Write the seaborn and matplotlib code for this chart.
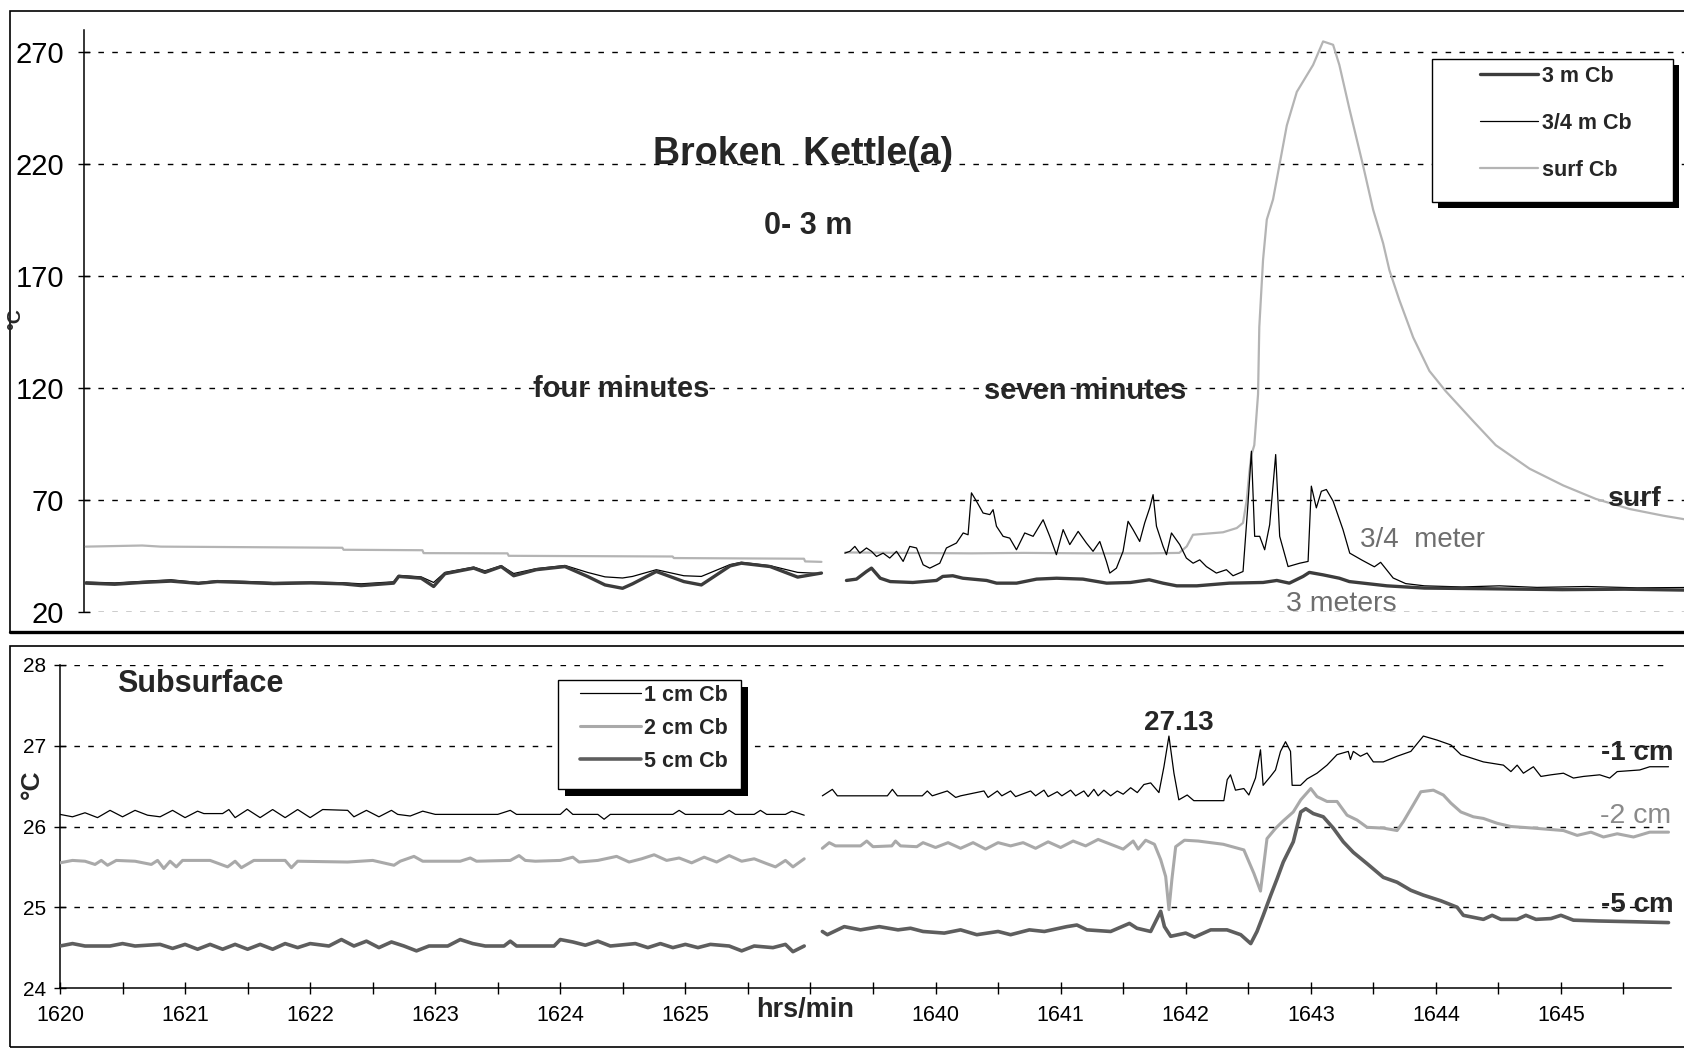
import pandas as pd
import matplotlib
matplotlib.use("Agg")
import matplotlib.pyplot as plt
from matplotlib.lines import Line2D
from matplotlib.patches import Rectangle
import seaborn as sns

# x = position on the category axis in minutes (0 -> 1620, 7 -> 1640), y = deg C

# --- upper panel, 0-3 m ---
m3_a = [(0.0, 32.7), (0.23, 32.2), (0.45, 33.0), (0.68, 33.6), (0.9, 32.6), (1.05, 33.4),
        (1.27, 33.0), (1.5, 32.5), (1.8, 32.8), (2.05, 32.4), (2.2, 31.6), (2.46, 32.7),
        (2.5, 35.7), (2.68, 34.9), (2.78, 31.2), (2.87, 36.9), (3.1, 39.4), (3.19, 37.5),
        (3.32, 40.1), (3.42, 36.0), (3.6, 38.7), (3.83, 40.1), (4.01, 35.7), (4.15, 31.9),
        (4.29, 30.4), (4.37, 32.4), (4.56, 37.9), (4.78, 33.4), (4.92, 31.9), (5.15, 40.4),
        (5.24, 41.6), (5.47, 40.1), (5.69, 35.4), (5.88, 37.2)]
m3_b = [(6.08, 33.9), (6.16, 34.5), (6.24, 37.9), (6.28, 39.4), (6.35, 34.9), (6.43, 33.4),
        (6.61, 33.0), (6.8, 33.9), (6.85, 35.7), (6.93, 36.0), (7.01, 34.9), (7.2, 33.9),
        (7.28, 32.7), (7.44, 32.7), (7.6, 34.5), (7.76, 34.9), (7.97, 34.5), (8.16, 32.7),
        (8.35, 33.0), (8.5, 34.2), (8.61, 32.7), (8.72, 31.5), (8.88, 31.5), (9.14, 32.7),
        (9.41, 33.0), (9.52, 33.9), (9.62, 32.7), (9.73, 35.7), (9.78, 37.5), (9.89, 36.4),
        (10.02, 34.9), (10.1, 33.4), (10.4, 31.5), (10.7, 30.5), (11.2, 30.2), (11.8, 29.8),
        (12.3, 30.0), (12.9, 29.5)]

m34_a = [(0.0, 33.2), (0.23, 32.8), (0.45, 33.5), (0.68, 34.2), (0.9, 33.0), (1.05, 33.8),
         (1.27, 33.5), (1.5, 33.0), (1.8, 33.2), (2.05, 32.9), (2.2, 32.4), (2.46, 33.3),
         (2.5, 36.2), (2.68, 35.5), (2.78, 33.0), (2.87, 37.5), (3.1, 39.9), (3.19, 38.2),
         (3.32, 40.5), (3.42, 37.0), (3.6, 39.2), (3.83, 40.6), (4.01, 37.5), (4.15, 35.5),
         (4.29, 35.0), (4.37, 35.7), (4.56, 38.7), (4.78, 36.0), (4.92, 35.7), (5.15, 41.0),
         (5.24, 42.0), (5.47, 40.5), (5.69, 37.5), (5.88, 37.0)]
m34_b = [(6.067, 46.1), (6.107, 46.9), (6.147, 49.1), (6.187, 46.1), (6.24, 48.4), (6.28, 46.9),
         (6.32, 44.6), (6.373, 46.1), (6.426, 43.9), (6.48, 46.9), (6.533, 42.4), (6.586, 49.1),
         (6.64, 48.4), (6.693, 40.9), (6.746, 39.4), (6.826, 41.6), (6.879, 48.4), (6.959, 50.6),
         (7.013, 55.1), (7.052, 54.3), (7.079, 73.0), (7.119, 69.3), (7.172, 64.0), (7.226, 63.3),
         (7.252, 65.5), (7.279, 58.1), (7.332, 53.6), (7.385, 52.8), (7.439, 47.6), (7.505, 55.1),
         (7.572, 53.6), (7.652, 61.0), (7.705, 53.6), (7.758, 45.4), (7.812, 56.6), (7.865, 49.9),
         (7.932, 55.8), (7.998, 50.6), (8.051, 46.9), (8.105, 51.3), (8.158, 42.4), (8.185, 37.2),
         (8.238, 39.4), (8.291, 46.9), (8.331, 60.3), (8.371, 56.6), (8.424, 51.3), (8.464, 59.6),
         (8.504, 66.3), (8.531, 72.2), (8.558, 58.1), (8.611, 49.1), (8.638, 45.4), (8.678, 55.1),
         (8.744, 49.9), (8.797, 43.9), (8.851, 41.6), (8.904, 43.1), (8.957, 40.1), (9.037, 37.2),
         (9.117, 38.7), (9.17, 36.0), (9.25, 37.9), (9.29, 68.5), (9.317, 91.6), (9.343, 53.6),
         (9.383, 53.6), (9.423, 47.6), (9.463, 58.8), (9.511, 90.1), (9.543, 53.6), (9.61, 40.1),
         (9.703, 41.6), (9.77, 42.4), (9.796, 76.0), (9.836, 66.3), (9.876, 73.7), (9.916, 74.5),
         (9.97, 69.3), (10.049, 56.6), (10.103, 46.1), (10.2, 43.0), (10.3, 40.0), (10.35, 42.0),
         (10.45, 35.0), (10.55, 32.5), (10.7, 31.5), (11.0, 31.0), (11.3, 31.5), (11.6, 30.8),
         (12.0, 31.2), (12.4, 30.6), (12.9, 30.8)]

surf_a = [(0.0, 49.0), (0.45, 49.5), (0.6, 49.0), (2.05, 48.5), (2.06, 47.6), (2.69, 47.4),
          (2.7, 46.1), (3.37, 46.0), (3.38, 44.9), (4.69, 44.6), (4.7, 43.9), (5.74, 43.6),
          (5.75, 42.4), (5.88, 42.2)]
surf_b = [(6.07, 46.4), (6.5, 46.2), (7.08, 46.0), (7.5, 46.2), (8.0, 46.0), (8.5, 46.0),
          (8.74, 46.2), (8.8, 49.1), (8.85, 54.3), (8.96, 54.8), (9.09, 55.4), (9.2, 57.3),
          (9.25, 59.6), (9.28, 70.0), (9.3, 82.0), (9.317, 90.0), (9.34, 94.3), (9.37, 117),
          (9.38, 147), (9.41, 177), (9.44, 195), (9.49, 204), (9.54, 219), (9.6, 237),
          (9.68, 252), (9.81, 264), (9.89, 274.5), (9.97, 273), (10.02, 264), (10.1, 244.5),
          (10.21, 219), (10.29, 199.4), (10.37, 184.4), (10.42, 172.4), (10.5, 159),
          (10.61, 142.4), (10.74, 127.4), (10.87, 118.4), (11.09, 105), (11.27, 94.3),
          (11.54, 83.8), (11.81, 76.3), (12.07, 70.3), (12.34, 65.8), (12.61, 62.8),
          (12.77, 61.3), (12.9, 60.0)]

# --- lower panel, subsurface ---
cm1_a = [(0.0, 26.15), (0.1, 26.12), (0.2, 26.17), (0.3, 26.11), (0.4, 26.2), (0.5, 26.12),
         (0.6, 26.2), (0.7, 26.14), (0.8, 26.12), (0.9, 26.2), (1.0, 26.11), (1.1, 26.19),
         (1.15, 26.16), (1.3, 26.16), (1.35, 26.21), (1.4, 26.11), (1.5, 26.21), (1.6, 26.11),
         (1.7, 26.21), (1.8, 26.11), (1.9, 26.21), (2.0, 26.11), (2.1, 26.21), (2.3, 26.2),
         (2.35, 26.12), (2.45, 26.2), (2.55, 26.12), (2.65, 26.2), (2.7, 26.15), (2.8, 26.13),
         (2.9, 26.19), (3.0, 26.15), (3.5, 26.15), (3.6, 26.2), (3.65, 26.15), (4.0, 26.15),
         (4.05, 26.22), (4.1, 26.15), (4.3, 26.15), (4.35, 26.09), (4.4, 26.15), (4.9, 26.15),
         (4.95, 26.2), (5.0, 26.15), (5.3, 26.15), (5.35, 26.2), (5.4, 26.15), (5.55, 26.15),
         (5.6, 26.2), (5.65, 26.15), (5.8, 26.15), (5.85, 26.19), (5.95, 26.14)]
cm1_b = [(6.095, 26.38), (6.175, 26.46), (6.215, 26.38), (6.615, 26.38), (6.655, 26.46),
         (6.695, 26.38), (6.894, 26.38), (6.934, 26.44), (6.974, 26.38), (7.094, 26.44),
         (7.161, 26.36), (7.201, 26.38), (7.387, 26.44), (7.42, 26.36), (7.494, 26.44),
         (7.53, 26.38), (7.6, 26.44), (7.64, 26.37), (7.76, 26.44), (7.8, 26.38), (7.867, 26.45),
         (7.9, 26.37), (7.973, 26.43), (8.01, 26.38), (8.08, 26.45), (8.12, 26.38), (8.186, 26.44),
         (8.22, 26.37), (8.266, 26.46), (8.3, 26.38), (8.346, 26.45), (8.4, 26.38), (8.453, 26.44),
         (8.5, 26.4), (8.56, 26.48), (8.613, 26.42), (8.666, 26.52), (8.72, 26.54), (8.786, 26.42),
         (8.826, 26.74), (8.866, 27.12), (8.906, 26.66), (8.945, 26.33), (9.012, 26.39),
         (9.065, 26.32), (9.305, 26.32), (9.332, 26.58), (9.358, 26.64), (9.398, 26.45),
         (9.465, 26.47), (9.505, 26.39), (9.558, 26.6), (9.598, 26.95), (9.619, 26.51),
         (9.678, 26.62), (9.718, 26.7), (9.758, 26.93), (9.798, 27.05), (9.838, 26.93),
         (9.851, 26.51), (9.918, 26.51), (9.971, 26.59), (10.05, 26.66), (10.13, 26.76),
         (10.21, 26.89), (10.3, 26.93), (10.317, 26.83), (10.34, 26.93), (10.397, 26.87),
         (10.45, 26.91), (10.5, 26.8), (10.58, 26.8), (10.69, 26.87), (10.8, 26.93),
         (10.9, 27.12), (11.01, 27.07), (11.12, 27.01), (11.2, 26.89), (11.28, 26.85),
         (11.38, 26.8), (11.54, 26.76), (11.6, 26.68), (11.65, 26.76), (11.7, 26.66),
         (11.78, 26.74), (11.84, 26.62), (11.92, 26.64), (12.02, 26.66), (12.1, 26.6),
         (12.18, 26.62), (12.31, 26.64), (12.39, 26.6), (12.45, 26.68), (12.63, 26.7),
         (12.71, 26.74), (12.86, 26.74)]

cm2_a = [(0.0, 25.55), (0.1, 25.58), (0.2, 25.57), (0.28, 25.53), (0.33, 25.58), (0.38, 25.52),
         (0.45, 25.58), (0.6, 25.57), (0.73, 25.53), (0.78, 25.58), (0.83, 25.48), (0.88, 25.57),
         (0.93, 25.5), (0.98, 25.58), (1.2, 25.58), (1.34, 25.5), (1.4, 25.57), (1.45, 25.49),
         (1.55, 25.58), (1.8, 25.58), (1.85, 25.49), (1.9, 25.57), (2.3, 25.56), (2.5, 25.58),
         (2.67, 25.52), (2.72, 25.57), (2.83, 25.63), (2.9, 25.57), (3.2, 25.57), (3.28, 25.61),
         (3.33, 25.57), (3.6, 25.58), (3.67, 25.64), (3.72, 25.58), (3.8, 25.57), (4.0, 25.58),
         (4.1, 25.62), (4.15, 25.56), (4.3, 25.58), (4.45, 25.63), (4.55, 25.56), (4.65, 25.6),
         (4.75, 25.65), (4.85, 25.58), (4.95, 25.61), (5.05, 25.55), (5.15, 25.62), (5.25, 25.56),
         (5.35, 25.64), (5.45, 25.57), (5.55, 25.6), (5.65, 25.54), (5.72, 25.5), (5.8, 25.58),
         (5.86, 25.5), (5.95, 25.6)]
cm2_b = [(6.095, 25.73), (6.15, 25.8), (6.2, 25.76), (6.4, 25.76), (6.45, 25.82), (6.5, 25.75),
         (6.65, 25.76), (6.68, 25.82), (6.72, 25.76), (6.85, 25.75), (6.9, 25.8), (7.0, 25.74),
         (7.1, 25.8), (7.2, 25.73), (7.3, 25.8), (7.4, 25.72), (7.5, 25.8), (7.6, 25.76),
         (7.7, 25.8), (7.8, 25.73), (7.9, 25.81), (8.0, 25.74), (8.1, 25.82), (8.2, 25.76),
         (8.3, 25.84), (8.4, 25.78), (8.5, 25.72), (8.58, 25.82), (8.62, 25.72), (8.68, 25.83),
         (8.75, 25.78), (8.8, 25.59), (8.84, 25.38), (8.866, 24.97), (8.89, 25.35), (8.92, 25.75),
         (8.99, 25.83), (9.1, 25.82), (9.2, 25.8), (9.3, 25.78), (9.465, 25.71), (9.545, 25.42),
         (9.598, 25.2), (9.65, 25.85), (9.72, 25.98), (9.78, 26.07), (9.86, 26.18), (9.92, 26.33),
         (10.0, 26.47), (10.05, 26.37), (10.13, 26.31), (10.21, 26.31), (10.29, 26.14),
         (10.37, 26.08), (10.45, 25.99), (10.58, 25.98), (10.69, 25.95), (10.74, 26.06),
         (10.82, 26.27), (10.88, 26.43), (10.98, 26.45), (11.06, 26.39), (11.12, 26.29),
         (11.2, 26.18), (11.3, 26.12), (11.38, 26.1), (11.49, 26.04), (11.6, 26.0), (11.78, 25.98),
         (12.02, 25.95), (12.13, 25.89), (12.24, 25.93), (12.34, 25.87), (12.45, 25.91),
         (12.58, 25.87), (12.71, 25.93), (12.86, 25.93)]

cm5_a = [(0.0, 24.52), (0.1, 24.55), (0.2, 24.52), (0.4, 24.52), (0.5, 24.55), (0.6, 24.52),
         (0.8, 24.54), (0.9, 24.49), (1.0, 24.54), (1.1, 24.48), (1.2, 24.54), (1.3, 24.48),
         (1.4, 24.54), (1.5, 24.48), (1.6, 24.54), (1.7, 24.48), (1.8, 24.55), (1.9, 24.5),
         (2.0, 24.55), (2.15, 24.52), (2.25, 24.6), (2.35, 24.52), (2.45, 24.58), (2.55, 24.5),
         (2.65, 24.57), (2.75, 24.52), (2.85, 24.46), (2.95, 24.52), (3.1, 24.52), (3.2, 24.6),
         (3.3, 24.55), (3.4, 24.52), (3.55, 24.52), (3.6, 24.58), (3.65, 24.52), (3.95, 24.52),
         (4.0, 24.6), (4.1, 24.57), (4.2, 24.53), (4.3, 24.58), (4.4, 24.52), (4.6, 24.55),
         (4.7, 24.5), (4.8, 24.55), (4.9, 24.5), (5.0, 24.54), (5.1, 24.5), (5.2, 24.54),
         (5.35, 24.52), (5.45, 24.46), (5.55, 24.52), (5.7, 24.5), (5.8, 24.54), (5.86, 24.45),
         (5.95, 24.52)]
cm5_b = [(6.095, 24.7), (6.135, 24.66), (6.27, 24.76), (6.4, 24.72), (6.55, 24.76), (6.7, 24.72),
         (6.8, 24.74), (6.9, 24.7), (7.07, 24.68), (7.2, 24.72), (7.33, 24.66), (7.5, 24.7),
         (7.6, 24.66), (7.75, 24.72), (7.87, 24.7), (8.05, 24.76), (8.13, 24.78), (8.21, 24.72),
         (8.4, 24.7), (8.55, 24.8), (8.61, 24.74), (8.72, 24.7), (8.8, 24.95), (8.83, 24.76),
         (8.88, 24.64), (9.0, 24.68), (9.07, 24.63), (9.2, 24.72), (9.33, 24.72), (9.44, 24.66),
         (9.52, 24.55), (9.57, 24.7), (9.62, 24.9), (9.68, 25.15), (9.73, 25.35), (9.78, 25.56),
         (9.86, 25.81), (9.92, 26.18), (9.96, 26.22), (10.02, 26.16), (10.1, 26.12), (10.18, 25.98),
         (10.26, 25.81), (10.34, 25.68), (10.45, 25.54), (10.58, 25.37), (10.69, 25.31),
         (10.8, 25.21), (10.9, 25.15), (11.04, 25.08), (11.17, 25.0), (11.22, 24.9), (11.38, 24.85),
         (11.45, 24.9), (11.52, 24.85), (11.65, 24.85), (11.72, 24.9), (11.8, 24.85), (11.92, 24.86),
         (12.0, 24.9), (12.1, 24.84), (12.3, 24.83), (12.6, 24.82), (12.86, 24.81)]

tick_pos = [0, 1, 2, 3, 4, 5, 7, 8, 9, 10, 11, 12]
tick_labels = ['1620', '1621', '1622', '1623', '1624', '1625',
               '1640', '1641', '1642', '1643', '1644', '1645']
top_yticks = [20, 70, 120, 170, 220, 270]
bot_yticks = [24, 25, 26, 27, 28]

# styles
C_3M, LW_3M = '#3c3c3c', 2.4
C_34M, LW_34M = 'black', 0.9
C_SURF, LW_SURF = '#b4b4b4', 1.6
C_1CM, LW_1CM = 'black', 0.9
C_2CM, LW_2CM = '#a9a9a9', 2.2
C_5CM, LW_5CM = '#5e5e5e', 2.6
GRID = dict(color='black', lw=1.0, linestyle=(0, (4, 6)))

sns.set_style("white")
plt.rcParams['font.family'] = ['Liberation Sans', 'DejaVu Sans']

W, H = 1684, 1054
fig = plt.figure(figsize=(W / 100, H / 100), dpi=100)


def fx(px):
    return px / W


def fy(py):
    return 1 - py / H


def draw(ax, segs, color, lw, z=3):
    df = pd.DataFrame([(i, t, v) for i, seg in enumerate(segs) for t, v in seg],
                      columns=['seg', 't', 'val'])
    sns.lineplot(data=df, x='t', y='val', units='seg', estimator=None, sort=False,
                 color=color, lw=lw, ax=ax, zorder=z, legend=False)


# panel frames
fig.patches.append(Rectangle((fx(10), fy(632)), 1.2, fy(11) - fy(632), transform=fig.transFigure,
                             fill=False, ec='black', lw=1.2, zorder=0))
fig.add_artist(Line2D([fx(10), 1.0], [fy(632), fy(632)], transform=fig.transFigure,
                      color='black', lw=2.4))
fig.patches.append(Rectangle((fx(10), fy(1047)), 1.2, fy(646) - fy(1047), transform=fig.transFigure,
                             fill=False, ec='black', lw=1.2, zorder=0))

# ---------- upper panel ----------
ax1 = fig.add_axes([fx(84), fy(611.6), 1 - fx(84), fy(30) - fy(611.6)])
ax1.patch.set_alpha(0)
draw(ax1, [surf_a, surf_b], C_SURF, LW_SURF)
draw(ax1, [m34_a, m34_b], C_34M, LW_34M)
draw(ax1, [m3_a, m3_b], C_3M, LW_3M)
ax1.set_xlim(-0.015, 12.775)
ax1.set_ylim(20, 279.6)
ax1.set_yticks(top_yticks)
ax1.set_xticks([])
ax1.set_xlabel('')
ax1.set_ylabel('')
for s in ['top', 'right', 'bottom']:
    ax1.spines[s].set_visible(False)
ax1.spines['left'].set_color('black')
ax1.spines['left'].set_linewidth(1.1)
ax1.tick_params(axis='y', direction='inout', length=9, width=1, pad=10,
                labelsize=21, colors='black', left=True)
ax1.grid(False)
for y in top_yticks:
    ax1.axhline(y, zorder=1, **GRID)

fig.text(fx(803), fy(154), 'Broken  Kettle(a)', ha='center', va='center',
         fontsize=27, weight='bold')
fig.text(fx(808), fy(226), '0- 3 m', ha='center', va='center', fontsize=22, weight='bold')
fig.text(fx(621), fy(389), 'four minutes', ha='center', va='center', fontsize=21, weight='bold')
fig.text(fx(1085), fy(391), 'seven minutes', ha='center', va='center', fontsize=21, weight='bold')
fig.text(fx(1635), fy(499), 'surf', ha='center', va='center', fontsize=20.5, weight='bold')
fig.text(fx(1423), fy(540), '3/4  meter', ha='center', va='center', fontsize=20, color='#6e6e6e')
fig.text(fx(1341), fy(604), '3 meters', ha='center', va='center', fontsize=20.5, color='#6e6e6e')
fig.text(fx(16), fy(319), '°C', rotation=90, ha='center', va='center', fontsize=14, weight='bold')

# legend box with shadow
fig.patches.append(Rectangle((fx(1438), fy(208)), fx(241), fy(59) - fy(202),
                             transform=fig.transFigure, fc='black', ec='none', zorder=5))
fig.patches.append(Rectangle((fx(1432), fy(202)), fx(241), fy(59) - fy(202),
                             transform=fig.transFigure, fc='white', ec='black', lw=1, zorder=6))
h1 = [Line2D([], [], color=C_3M, lw=LW_3M), Line2D([], [], color=C_34M, lw=LW_34M),
      Line2D([], [], color=C_SURF, lw=LW_SURF)]
leg1 = fig.legend(h1, ['3 m Cb', '3/4 m Cb', 'surf Cb'], loc='upper left',
                  bbox_to_anchor=(fx(1480), fy(66)), frameon=False, borderpad=0,
                  borderaxespad=0, handlelength=2.7, handletextpad=0.18, labelspacing=1.2,
                  prop=dict(weight='bold', size=15.5))
leg1.set_zorder(7)

# ---------- lower panel ----------
ax2 = fig.add_axes([fx(60), fy(988), fx(1671) - fx(60), fy(665) - fy(988)])
ax2.patch.set_alpha(0)
draw(ax2, [cm2_a, cm2_b], C_2CM, LW_2CM)
draw(ax2, [cm5_a, cm5_b], C_5CM, LW_5CM)
draw(ax2, [cm1_a, cm1_b], C_1CM, LW_1CM)
ax2.set_xlim(0, 12.88)
ax2.set_ylim(24, 28)
ax2.set_yticks(bot_yticks)
ax2.set_xticks(tick_pos)
ax2.set_xticklabels(tick_labels)
ax2.set_xticks([i * 0.5 for i in range(26) if i % 2 == 1 or i == 12], minor=True)
ax2.set_xlabel('')
ax2.set_ylabel('')
for s in ['top', 'right']:
    ax2.spines[s].set_visible(False)
for s in ['left', 'bottom']:
    ax2.spines[s].set_color('black')
    ax2.spines[s].set_linewidth(1.1)
ax2.tick_params(axis='y', direction='inout', length=8, width=1, pad=6,
                labelsize=15, colors='black', left=True)
ax2.tick_params(axis='x', which='both', direction='inout', length=9, width=1, pad=8,
                labelsize=15.5, colors='black', bottom=True)
ax2.grid(False)
for y in bot_yticks[1:]:
    ax2.axhline(y, zorder=1, **GRID)

fig.text(fx(200), fy(684), 'Subsurface', ha='center', va='center', fontsize=22, weight='bold')
fig.text(fx(1179), fy(723), '27.13', ha='center', va='center', fontsize=20, weight='bold')
fig.text(fx(1637), fy(753), '-1 cm', ha='center', va='center', fontsize=20, weight='bold')
fig.text(fx(1636), fy(816), '-2 cm', ha='center', va='center', fontsize=20.5, color='#8a8a8a')
fig.text(fx(1637), fy(905), '-5 cm', ha='center', va='center', fontsize=20, weight='bold')
fig.text(fx(805), fy(1010), 'hrs/min', ha='center', va='center', fontsize=19.5, weight='bold')
fig.text(fx(32), fy(784), '°C', rotation=90, ha='center', va='center', fontsize=19, weight='bold')

fig.patches.append(Rectangle((fx(565), fy(796)), fx(183), fy(680) - fy(789),
                             transform=fig.transFigure, fc='black', ec='none', zorder=5))
fig.patches.append(Rectangle((fx(558), fy(789)), fx(183), fy(680) - fy(789),
                             transform=fig.transFigure, fc='white', ec='black', lw=1, zorder=6))
h2 = [Line2D([], [], color=C_1CM, lw=LW_1CM), Line2D([], [], color=C_2CM, lw=LW_2CM),
      Line2D([], [], color=C_5CM, lw=LW_5CM)]
leg2 = fig.legend(h2, ['1 cm Cb', '2 cm Cb', '5 cm Cb'], loc='upper left',
                  bbox_to_anchor=(fx(580), fy(685)), frameon=False, borderpad=0,
                  borderaxespad=0, handlelength=2.85, handletextpad=0.12, labelspacing=0.55,
                  prop=dict(weight='bold', size=15.5))
leg2.set_zorder(7)

fig.savefig('out.png', dpi=100)
